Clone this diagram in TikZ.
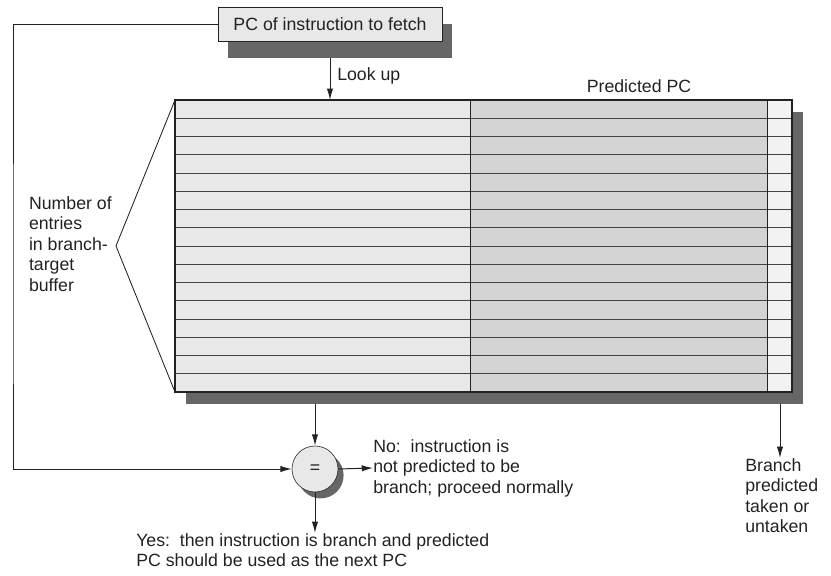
\documentclass[tikz,border=0pt]{standalone}
\usepackage{fontspec}
\setmainfont{Liberation Sans}
\usepackage{xcolor}
\usetikzlibrary{arrows.meta,positioning,calc,shadows}
\definecolor{Ink}{HTML}{222222}
\definecolor{Cell}{HTML}{E8E8E8}
\definecolor{Target}{HTML}{D4D4D4}
\definecolor{Bit}{HTML}{F2F2F2}
\definecolor{Shade}{HTML}{666666}

\begin{document}
\begin{tikzpicture}[x=0.025cm,y=-0.025cm,
  every node/.style={font=\fontsize{12.6}{14.6}\selectfont,text=Ink},
  pcbox/.style={draw=Ink,fill=Cell,minimum width=5.6cm,minimum height=0.85cm,inner sep=0pt,
    drop shadow={shadow xshift=0.25cm,shadow yshift=-0.42cm,fill=Shade,opacity=1}},
  cmpnode/.style={circle,draw=Ink,fill=Cell,minimum size=1.15cm,inner sep=0pt,
    drop shadow={shadow xshift=0.14cm,shadow yshift=-0.16cm,fill=Shade,opacity=1}},
  note/.style={align=left,inner sep=0pt},
  rowline/.style={draw=Ink!85,line width=0.6pt},
  arrow/.style={-{Latex[length=8pt,width=4.5pt]},line width=0.7pt,Ink}]
  \useasboundingbox (0,0) rectangle (831,576);
  \node[pcbox] (pc) at (330,24) {PC of instruction to fetch};
  \coordinate (btl) at (175,100);
  \coordinate (bbr) at (792,392);
  \coordinate (apex) at (116,246);
  \coordinate (rail) at (13,300);
  \coordinate (tabout) at (315,404);
  \coordinate (bitout) at (780,404);
  \fill[Shade] (186,112) rectangle (803,404);
  \fill[Cell] (btl) rectangle (470,392);
  \fill[Target] (470,100) rectangle (767,392);
  \fill[Bit] (767,100) rectangle (bbr);
  \foreach \i in {1,...,15}
    \draw[rowline] (175,{100+\i*18.25}) -- (792,{100+\i*18.25});
  \draw[Ink,line width=0.7pt] (470,100) -- (470,392) (767,100) -- (767,392);
  \draw[Ink,line width=0.8pt] (btl) rectangle (bbr);
  \draw[Ink,line width=0.6pt] (btl) -- (apex) -- (175,392);
  \node[note,anchor=east] (size) at ($(apex)+(-4,-2)$)
    {Number of\\entries\\in branch-\\target\\buffer};
  \node (predpc) at (639,86) {Predicted PC};
  \draw[arrow] ([yshift=-0.42cm]pc.south) -- (pc.south |- btl);
  \node[note,anchor=west] (lookup) at (337,76) {Look up};
  \node[cmpnode] (eq) at (315,469) {=};
  \draw[arrow] (tabout) -- (eq.north);
  \draw[arrow] (pc.west) -| (rail) |- (eq.west);
  \node[note,anchor=west] (miss) at (373,468)
    {No:\ \ instruction is\\not predicted to be\\branch; proceed normally};
  \draw[arrow] (eq.east) -- (miss.west);
  \node[note,anchor=north west] (hit) at (136,533)
    {Yes:\ \ then instruction is branch and predicted\\PC should be used as the next PC};
  \draw[arrow] (eq.south) -- (eq.south |- hit.north);
  \node[note,anchor=north west] (taken) at (745,458)
    {Branch\\predicted\\taken or\\untaken};
  \draw[arrow] (bitout) -- (bitout |- taken.north);
\end{tikzpicture}
\end{document}
